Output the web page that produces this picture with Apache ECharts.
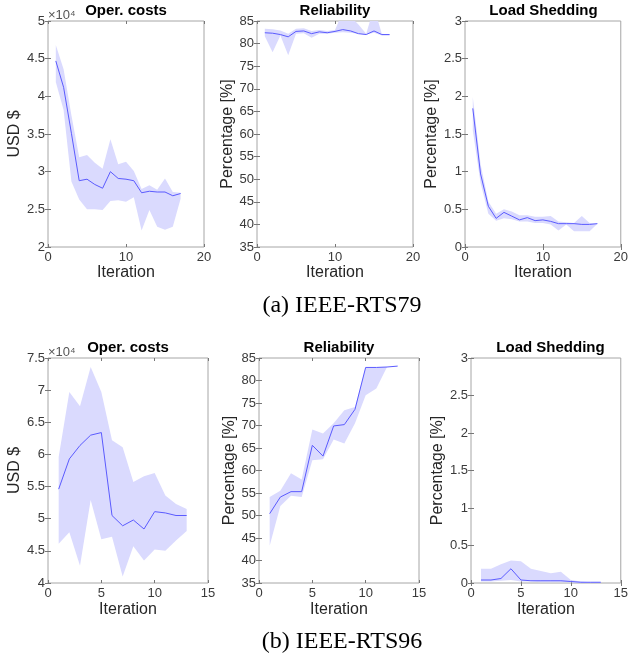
<!DOCTYPE html>
<html>
<head>
<meta charset="utf-8">
<script src="https://cdn.jsdelivr.net/npm/echarts@6/dist/echarts.min.js"></script>
<style>
  html, body { margin: 0; padding: 0; background: #fff; }
  #main { width: 631px; height: 660px; }
</style>
</head>
<body>
<div id="main"></div>
<script>
// iterations
const iter79 = [1, 2, 3, 4, 5, 6, 7, 8, 9, 10, 11, 12, 13, 14, 15, 16, 17];
const iter96 = [1, 2, 3, 4, 5, 6, 7, 8, 9, 10, 11, 12, 13];

// IEEE-RTS79
const cost79Mean  = [44700, 41200, 35100, 28800, 29000, 28300, 27800, 30000, 29100, 29000, 28800, 27200, 27400, 27300, 27300, 26800, 27100];
const cost79Upper = [46800, 43600, 37500, 31900, 32200, 31200, 30400, 34300, 31000, 31300, 30100, 27700, 28200, 27600, 29100, 27300, 27200];
const cost79Lower = [41900, 38200, 28700, 26300, 25000, 25000, 24900, 26100, 26200, 26000, 26600, 22200, 24900, 22700, 22300, 22700, 26400];

const rel79Mean  = [82.4, 82.3, 82.0, 81.5, 82.7, 82.8, 82.2, 82.6, 82.4, 82.7, 83.1, 82.8, 82.2, 82.0, 82.8, 82.0, 82.0];
const rel79Upper = [83.3, 83.2, 82.9, 82.2, 83.3, 83.4, 82.8, 83.0, 82.8, 83.0, 87.0, 86.0, 84.2, 82.2, 88.0, 82.2, 82.0];
const rel79Lower = [81.6, 78.1, 81.8, 77.4, 82.2, 82.3, 81.3, 82.2, 82.2, 82.4, 82.5, 82.4, 82.2, 82.0, 82.4, 81.8, 81.8];

const shed79Mean  = [1.84, 0.97, 0.54, 0.38, 0.46, 0.41, 0.36, 0.39, 0.35, 0.36, 0.34, 0.31, 0.31, 0.31, 0.30, 0.30, 0.31];
const shed79Upper = [1.99, 1.10, 0.60, 0.44, 0.50, 0.47, 0.42, 0.42, 0.40, 0.40, 0.41, 0.34, 0.33, 0.32, 0.41, 0.32, 0.31];
const shed79Lower = [1.55, 0.85, 0.44, 0.35, 0.38, 0.37, 0.34, 0.34, 0.32, 0.32, 0.30, 0.22, 0.30, 0.21, 0.21, 0.21, 0.31];

// IEEE-RTS96
const cost96Mean  = [54600, 59300, 61400, 63000, 63400, 50500, 48900, 49800, 48400, 51100, 50900, 50500, 50500];
const cost96Upper = [59600, 69700, 67500, 73600, 69700, 62200, 61100, 55700, 56600, 57100, 53600, 52300, 51500];
const cost96Lower = [46100, 47900, 42700, 52900, 46800, 47200, 41000, 45700, 43500, 45200, 45000, 46600, 48100];

const rel96Mean  = [50.4, 54.1, 55.3, 55.3, 65.6, 63.2, 69.9, 70.2, 73.6, 82.9, 82.9, 83.0, 83.2];
const rel96Upper = [54.1, 55.5, 59.4, 58.0, 69.1, 68.2, 70.5, 73.4, 74.1, 82.9, 82.9, 83.0, 83.2];
const rel96Lower = [43.3, 52.1, 54.4, 54.1, 62.3, 62.5, 66.9, 66.0, 70.5, 76.7, 78.2, 83.0, 83.2];

const shed96Mean  = [0.04, 0.04, 0.06, 0.19, 0.04, 0.03, 0.03, 0.03, 0.03, 0.02, 0.01, 0.01, 0.01];
const shed96Upper = [0.19, 0.19, 0.25, 0.30, 0.29, 0.19, 0.16, 0.13, 0.15, 0.04, 0.02, 0.01, 0.01];
const shed96Lower = [0.02, 0.02, 0.03, 0.04, 0.02, 0.02, 0.01, 0.01, 0.01, 0.01, 0.00, 0.00, 0.00];

const titles = ['Oper. costs', 'Reliability', 'Load Shedding', 'Oper. costs', 'Reliability', 'Load Shedding'];
const yNames = ['USD $', 'Percentage [%]', 'Percentage [%]', 'USD $', 'Percentage [%]', 'Percentage [%]'];

const panels = [
  { it: iter79, mean: cost79Mean, up: cost79Upper, lo: cost79Lower, xmax: 20, xint: 10, ymin: 20000, ymax: 50000, yint: 5000, scale: 1e4,
    grid: { left: 48, top: 21, width: 156, height: 226 }, yGap: 25, xGap: 17 },
  { it: iter79, mean: rel79Mean, up: rel79Upper, lo: rel79Lower, xmax: 20, xint: 10, ymin: 35, ymax: 85, yint: 5, scale: 1,
    grid: { left: 257, top: 21, width: 156, height: 226 }, yGap: 21, xGap: 17 },
  { it: iter79, mean: shed79Mean, up: shed79Upper, lo: shed79Lower, xmax: 20, xint: 10, ymin: 0, ymax: 3, yint: 0.5, scale: 1,
    grid: { left: 465, top: 21, width: 157, height: 226 }, yGap: 24, xGap: 17 },
  { it: iter96, mean: cost96Mean, up: cost96Upper, lo: cost96Lower, xmax: 15, xint: 5, ymin: 40000, ymax: 75000, yint: 5000, scale: 1e4,
    grid: { left: 48, top: 358, width: 160, height: 225 }, yGap: 24, xGap: 19 },
  { it: iter96, mean: rel96Mean, up: rel96Upper, lo: rel96Lower, xmax: 15, xint: 5, ymin: 35, ymax: 85, yint: 5, scale: 1,
    grid: { left: 259, top: 358, width: 160, height: 225 }, yGap: 21, xGap: 19 },
  { it: iter96, mean: shed96Mean, up: shed96Upper, lo: shed96Lower, xmax: 15, xint: 5, ymin: 0, ymax: 3, yint: 0.5, scale: 1,
    grid: { left: 471, top: 358, width: 159, height: 225 }, yGap: 25, xGap: 19 }
];

const FONT = '"Liberation Sans", Arial, Helvetica, sans-serif';
const bandColor = '#dadafe';
const lineColor = '#5b5bff';
const boxColor = '#a6a6a6';
const textColor = '#3a3a3a';

function pairs(xs, ys) {
  return xs.map(function (x, i) { return [x, ys[i]]; });
}

var grids = [], xAxes = [], yAxes = [], series = [], graphics = [];

panels.forEach(function (p, i) {
  grids.push(Object.assign({ show: true, borderColor: boxColor, borderWidth: 1, backgroundColor: '#fff' }, p.grid));

  var tick = { show: true, inside: true, length: 3, lineStyle: { color: '#777', width: 1 } };
  xAxes.push({
    type: 'value', gridIndex: i, min: 0, max: p.xmax, interval: p.xint,
    name: 'Iteration', nameLocation: 'middle', nameGap: p.xGap,
    nameTextStyle: { fontFamily: FONT, fontSize: 16, color: '#262626' },
    axisLine: { show: false }, axisTick: tick, splitLine: { show: false },
    axisLabel: { fontFamily: FONT, fontSize: 13, color: textColor, margin: 4, showMinLabel: true, showMaxLabel: true }
  });
  yAxes.push({
    type: 'value', gridIndex: i, min: p.ymin, max: p.ymax, interval: p.yint,
    name: yNames[i], nameLocation: 'middle', nameGap: p.yGap,
    nameTextStyle: { fontFamily: FONT, fontSize: 16, color: '#262626' },
    axisLine: { show: false }, axisTick: tick, splitLine: { show: false },
    axisLabel: {
      fontFamily: FONT, fontSize: 13, color: textColor, margin: 3, showMinLabel: true, showMaxLabel: true,
      formatter: function (v) { return String(+(v / p.scale).toFixed(2)); }
    }
  });

  // min-max band drawn as one polygon through the axes' own scales
  series.push({
    type: 'custom', xAxisIndex: i, yAxisIndex: i, silent: true, clip: true, z: 1,
    data: p.it.map(function (x, j) { return [x, p.lo[j], p.up[j]]; }),
    encode: { x: 0, y: [1, 2] },
    renderItem: function (params, api) {
      if (params.dataIndex !== 0) return;
      var top = p.it.map(function (x, j) { return api.coord([x, p.up[j]]); });
      var bot = p.it.map(function (x, j) { return api.coord([x, p.lo[j]]); }).reverse();
      return {
        type: 'polygon',
        shape: { points: top.concat(bot) },
        style: { fill: bandColor, stroke: null }
      };
    }
  });
  series.push({
    type: 'line', xAxisIndex: i, yAxisIndex: i,
    data: pairs(p.it, p.mean), symbol: 'none', lineStyle: { color: lineColor, width: 1 }, z: 3
  });

  var cx = p.grid.left + p.grid.width / 2;
  graphics.push({
    type: 'text', x: cx, y: p.grid.top - 10, z: 10,
    style: { text: titles[i], font: 'bold 15px ' + FONT, fill: '#000', textAlign: 'center', textVerticalAlign: 'middle' }
  });
  if (p.scale !== 1) {
    graphics.push({
      type: 'text', x: p.grid.left, y: p.grid.top - 6, z: 10,
      style: { text: '×10⁴', font: '13px ' + FONT, fill: '#555', textAlign: 'left', textVerticalAlign: 'middle' }
    });
  }
});

// mirrored ticks on top and right edges (MATLAB box style)
panels.forEach(function (p, i) {
  var tick = { show: true, inside: true, length: 3, lineStyle: { color: '#777', width: 1 } };
  xAxes.push({
    type: 'value', gridIndex: i, position: 'top', min: 0, max: p.xmax, interval: p.xint,
    axisLine: { show: false }, axisTick: tick, axisLabel: { show: false }, splitLine: { show: false }
  });
  yAxes.push({
    type: 'value', gridIndex: i, position: 'right', min: p.ymin, max: p.ymax, interval: p.yint,
    axisLine: { show: false }, axisTick: tick, axisLabel: { show: false }, splitLine: { show: false }
  });
});

graphics.push({
  type: 'text', x: 342, y: 306,
  style: { text: '(a) IEEE-RTS79', font: '24px "Liberation Serif", "Times New Roman", serif', fill: '#000', textAlign: 'center', textVerticalAlign: 'middle' }
});
graphics.push({
  type: 'text', x: 342, y: 642,
  style: { text: '(b) IEEE-RTS96', font: '24px "Liberation Serif", "Times New Roman", serif', fill: '#000', textAlign: 'center', textVerticalAlign: 'middle' }
});

var chart = echarts.init(document.getElementById('main'), null, { renderer: 'canvas' });
chart.setOption({
  animation: false,
  backgroundColor: '#fff',
  grid: grids,
  xAxis: xAxes,
  yAxis: yAxes,
  series: series,
  graphic: graphics
});
</script>
</body>
</html>
